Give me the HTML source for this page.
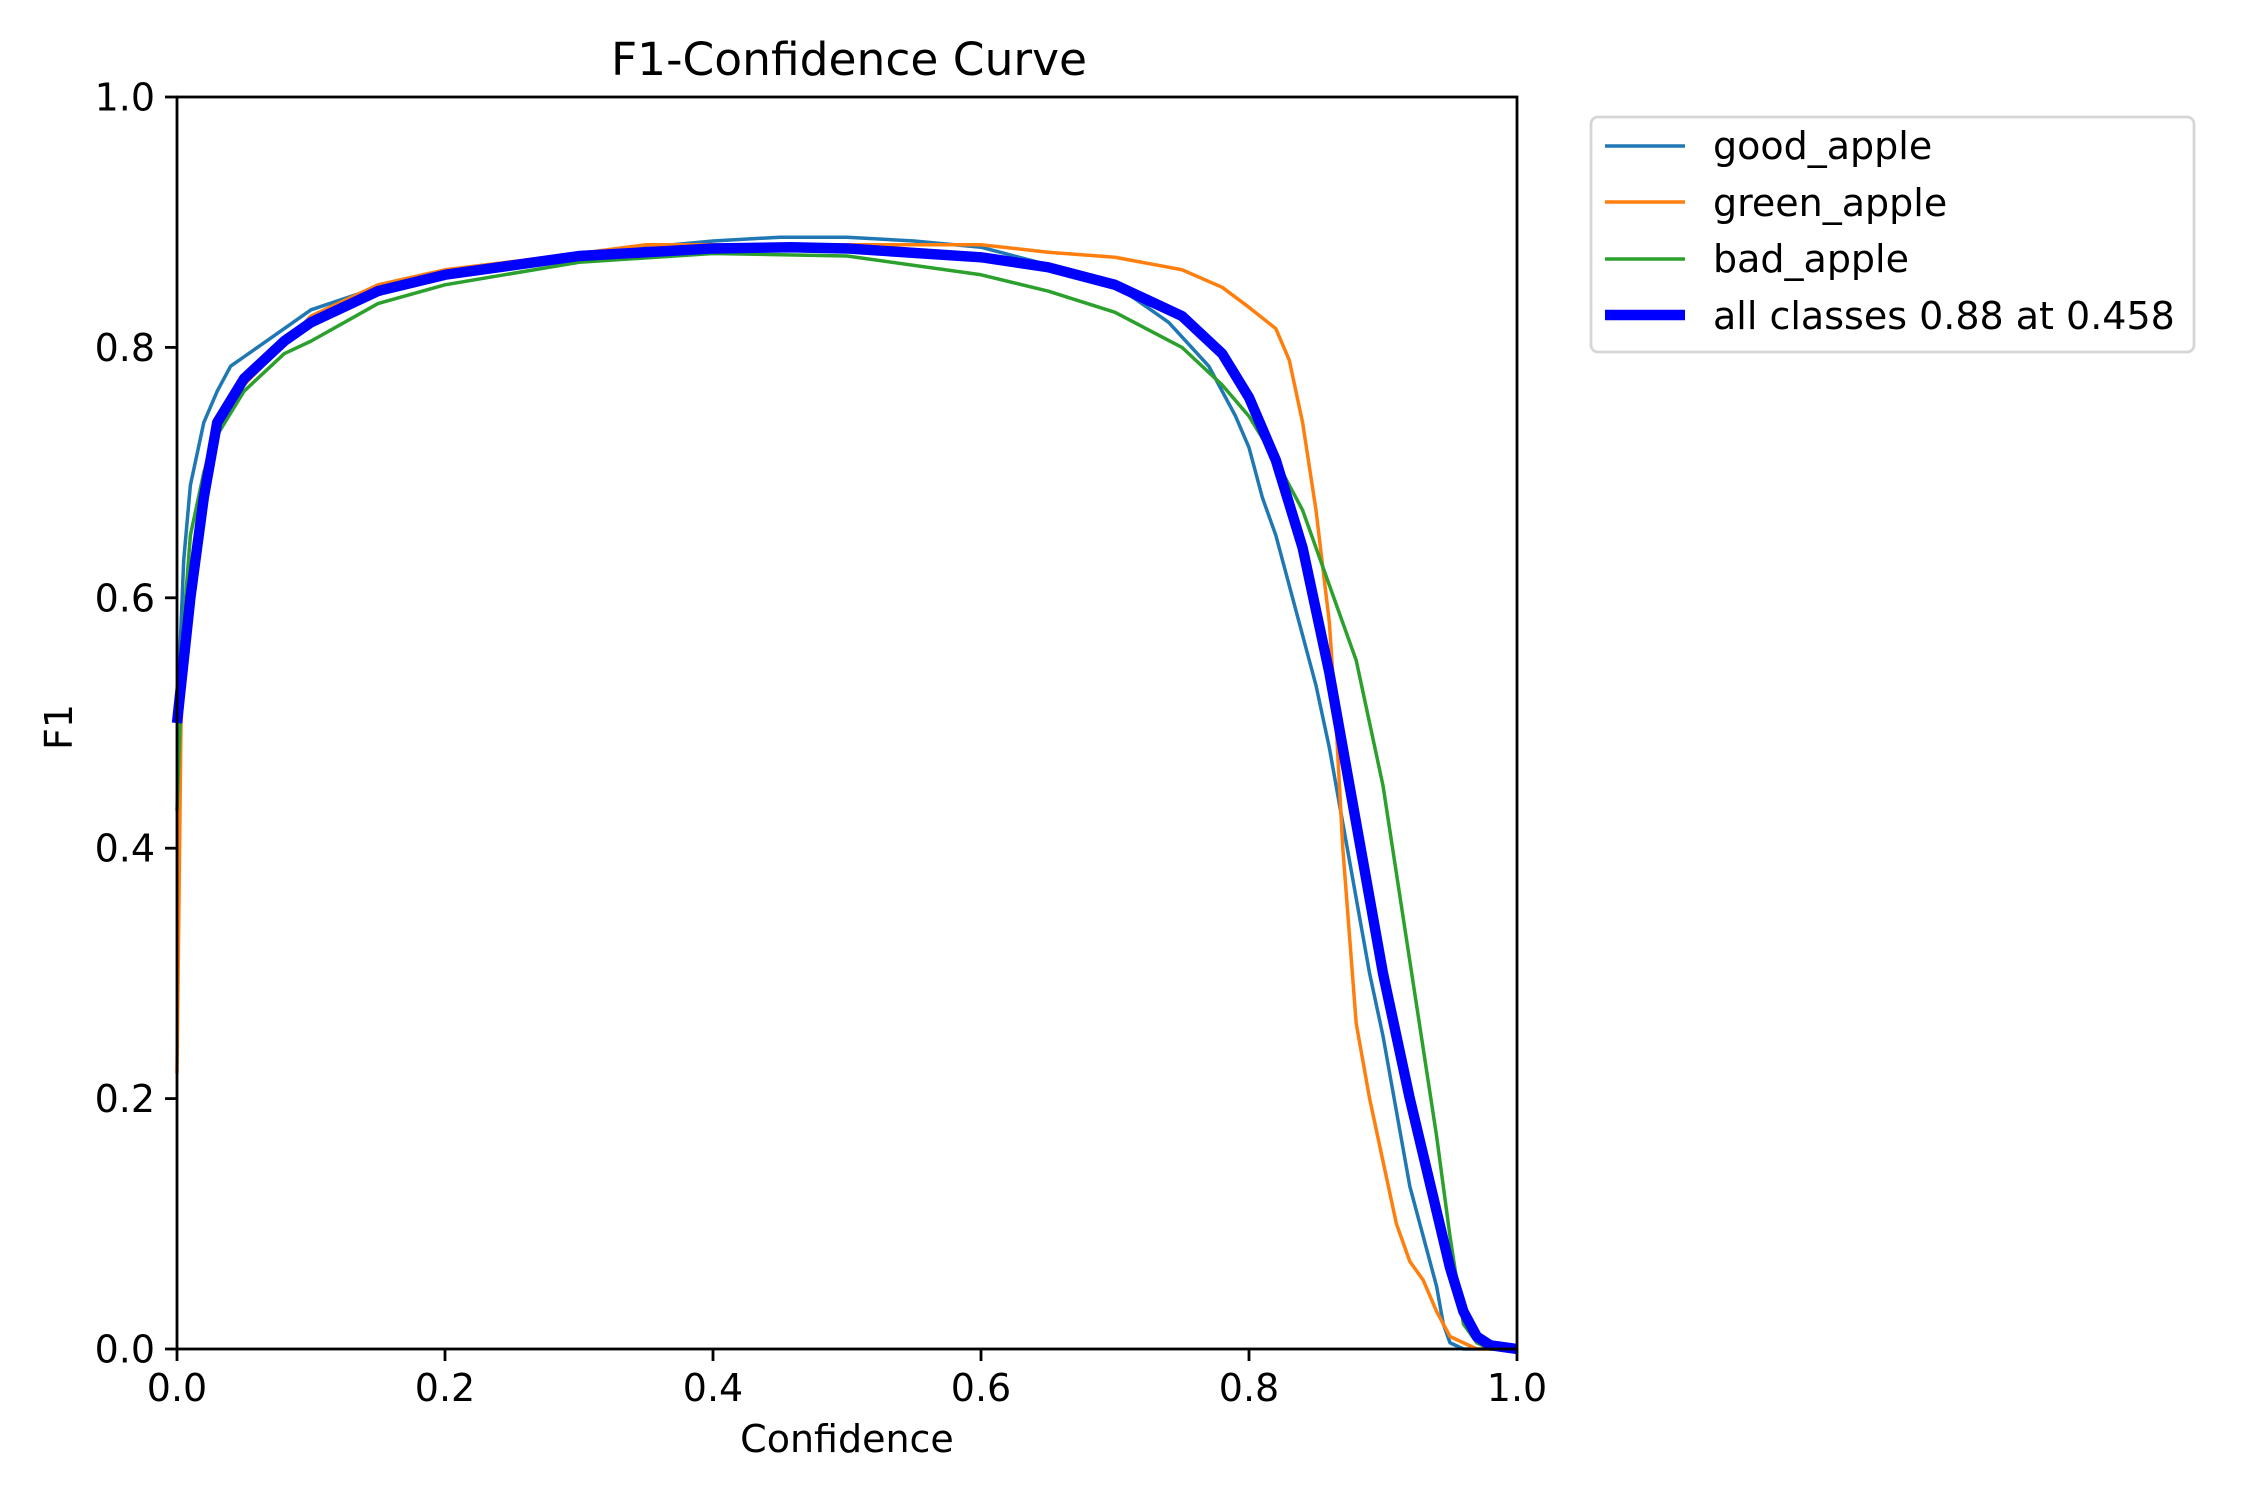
<!DOCTYPE html>
<html><head><meta charset="utf-8"><style>
html,body{margin:0;padding:0;background:#fff}
svg{display:block}
text{font-family:"DejaVu Sans","Liberation Sans",sans-serif;fill:#000}
</style></head><body>
<svg width="2250" height="1500" viewBox="0 0 2250 1500" xmlns="http://www.w3.org/2000/svg">
<rect width="2250" height="1500" fill="#fff"/>
<g transform="translate(177,1349) scale(1340,-1252)" fill="none" stroke-linejoin="round">
<polyline vector-effect="non-scaling-stroke" stroke="#1f77b4" stroke-width="3.5" points="0,0.5 0.005,0.63 0.01,0.69 0.02,0.74 0.03,0.765 0.04,0.785 0.06,0.8 0.1,0.83 0.15,0.848 0.2,0.86 0.3,0.875 0.4,0.885 0.45,0.888 0.5,0.888 0.55,0.885 0.6,0.88 0.65,0.866 0.7,0.85 0.74,0.82 0.77,0.785 0.79,0.745 0.8,0.72 0.81,0.68 0.82,0.65 0.83,0.61 0.84,0.57 0.85,0.53 0.86,0.48 0.87,0.42 0.88,0.36 0.89,0.3 0.9,0.25 0.91,0.19 0.92,0.13 0.93,0.09 0.94,0.05 0.945,0.02 0.95,0.005 0.96,0 1,0"/>
<polyline vector-effect="non-scaling-stroke" stroke="#ff7f0e" stroke-width="3.5" points="0,0.22 0.003,0.5 0.01,0.62 0.02,0.7 0.03,0.74 0.05,0.77 0.1,0.825 0.15,0.85 0.2,0.862 0.3,0.875 0.35,0.882 0.5,0.882 0.6,0.882 0.65,0.876 0.7,0.872 0.75,0.862 0.78,0.848 0.8,0.832 0.82,0.815 0.83,0.79 0.84,0.74 0.85,0.67 0.86,0.58 0.865,0.5 0.87,0.4 0.875,0.33 0.88,0.26 0.89,0.2 0.9,0.15 0.91,0.1 0.92,0.07 0.93,0.055 0.94,0.03 0.95,0.01 0.96,0.005 0.97,0 1,0"/>
<polyline vector-effect="non-scaling-stroke" stroke="#2ca02c" stroke-width="3.5" points="0,0.43 0.005,0.58 0.01,0.65 0.02,0.7 0.03,0.73 0.05,0.765 0.08,0.795 0.1,0.805 0.15,0.835 0.2,0.85 0.3,0.868 0.4,0.875 0.5,0.873 0.6,0.858 0.65,0.845 0.7,0.828 0.75,0.8 0.78,0.77 0.8,0.745 0.82,0.71 0.84,0.67 0.86,0.61 0.88,0.55 0.89,0.5 0.9,0.45 0.91,0.38 0.92,0.31 0.93,0.24 0.94,0.17 0.95,0.09 0.96,0.02 0.97,0.005 0.98,0 1,0"/>
<polyline vector-effect="non-scaling-stroke" stroke="#0000ff" stroke-width="10.4" points="0,0.5 0.01,0.6 0.02,0.68 0.03,0.74 0.05,0.775 0.08,0.805 0.1,0.82 0.15,0.845 0.2,0.858 0.3,0.873 0.4,0.879 0.458,0.88 0.5,0.879 0.6,0.872 0.65,0.864 0.7,0.85 0.75,0.825 0.78,0.795 0.8,0.76 0.82,0.71 0.84,0.64 0.86,0.54 0.88,0.42 0.9,0.3 0.92,0.2 0.94,0.11 0.95,0.065 0.96,0.03 0.97,0.01 0.98,0.003 1,0"/>
</g>
<rect x="177" y="97" width="1340" height="1252" fill="none" stroke="#000" stroke-width="2.8"/>
<g stroke="#000" stroke-width="2.8">
<line x1="177" y1="1349" x2="177" y2="1361"/><line x1="445" y1="1349" x2="445" y2="1361"/><line x1="713" y1="1349" x2="713" y2="1361"/><line x1="981" y1="1349" x2="981" y2="1361"/><line x1="1249" y1="1349" x2="1249" y2="1361"/><line x1="1517" y1="1349" x2="1517" y2="1361"/>
<line x1="165" y1="1349" x2="177" y2="1349"/><line x1="165" y1="1098.6" x2="177" y2="1098.6"/><line x1="165" y1="848.2" x2="177" y2="848.2"/><line x1="165" y1="597.8" x2="177" y2="597.8"/><line x1="165" y1="347.4" x2="177" y2="347.4"/><line x1="165" y1="97" x2="177" y2="97"/>
</g>
<g font-size="38" text-anchor="middle">
<text x="177" y="1401">0.0</text><text x="445" y="1401">0.2</text><text x="713" y="1401">0.4</text><text x="981" y="1401">0.6</text><text x="1249" y="1401">0.8</text><text x="1517" y="1401">1.0</text>
</g>
<g font-size="38" text-anchor="end">
<text x="155" y="1362.5">0.0</text><text x="155" y="1112">0.2</text><text x="155" y="861.7">0.4</text><text x="155" y="611.3">0.6</text><text x="155" y="361">0.8</text><text x="155" y="110.5">1.0</text>
</g>
<text x="847" y="1452" font-size="38" text-anchor="middle">Confidence</text>
<text transform="translate(72,727) rotate(-90)" font-size="38" text-anchor="middle">F1</text>
<text x="849" y="75" font-size="45.5" text-anchor="middle">F1-Confidence Curve</text>
<rect x="1591" y="117" width="603" height="235" rx="7" fill="#fff" stroke="#d6d6d6" stroke-width="2.8"/>
<line x1="1605" y1="146" x2="1685" y2="146" stroke="#1f77b4" stroke-width="3.5"/>
<line x1="1605" y1="202" x2="1685" y2="202" stroke="#ff7f0e" stroke-width="3.5"/>
<line x1="1605" y1="259" x2="1685" y2="259" stroke="#2ca02c" stroke-width="3.5"/>
<line x1="1605" y1="315" x2="1685" y2="315" stroke="#0000ff" stroke-width="10.4"/>
<g font-size="38">
<text x="1713" y="159">good_apple</text>
<text x="1713" y="216">green_apple</text>
<text x="1713" y="272">bad_apple</text>
<text x="1713" y="329">all classes 0.88 at 0.458</text>
</g>
</svg>
</body></html>
